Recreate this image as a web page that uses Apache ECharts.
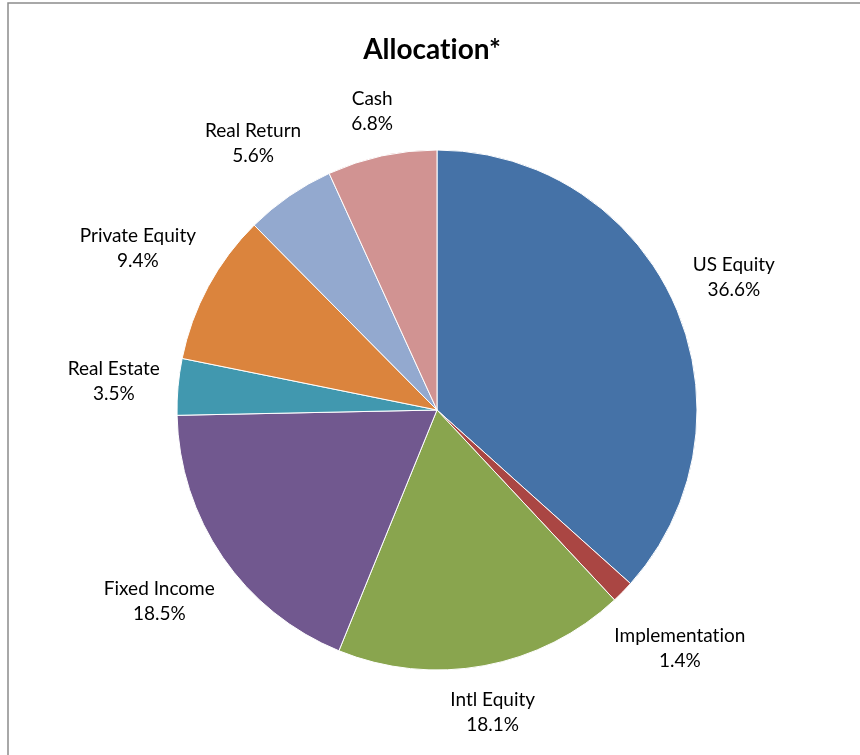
<!DOCTYPE html>
<html>
<head>
<meta charset="utf-8">
<title>Allocation</title>
<script src="https://cdn.jsdelivr.net/npm/echarts@6/dist/echarts.min.js"></script>
<style>
  html, body { margin: 0; padding: 0; background: #fff; }
  #chart { width: 860px; height: 755px; }
</style>
</head>
<body>
<div id="chart"></div>
<script>
// slices, clockwise from 12 o'clock
const categories = ['US Equity', 'Implementation', 'Intl Equity', 'Fixed Income', 'Real Estate', 'Private Equity', 'Real Return', 'Cash']
const shares = [36.6, 1.4, 18.1, 18.5, 3.5, 9.4, 5.6, 6.8]
const sliceColors = ['#4572A7', '#AA4643', '#89A54E', '#71588F', '#4198AF', '#DB843D', '#93A9CF', '#D19392']

const CX = 437
const CY = 410
const R = 260
const GAP = 17

const total = shares.reduce((a, b) => a + b, 0)
const midAngles = []
let acc = 0
shares.forEach(v => {
  midAngles.push(90 - (acc + v / 2) / total * 360)
  acc += v
})

// Lato fuses "ti" into a ligature; a zero-width non-joiner keeps the letters apart
const noLig = (s) => s.replace(/ti/g, 't\u200Ci')

// push each label out along its slice's mid angle until the box clears the pie
const placeLabel = (p) => {
  const a = midAngles[p.dataIndex] * Math.PI / 180
  const ux = Math.cos(a)
  const uy = -Math.sin(a)
  const hw = p.labelRect.width / 2
  const hh = p.labelRect.height / 2
  let d = R
  for (; d < R + 300; d += 0.5) {
    const bx = CX + ux * d
    const by = CY + uy * d
    const qx = Math.min(Math.max(CX, bx - hw), bx + hw)
    const qy = Math.min(Math.max(CY, by - hh), by + hh)
    if (Math.hypot(qx - CX, qy - CY) >= R + GAP) break
  }
  return { x: CX + ux * d, y: CY + uy * d, align: 'center', verticalAlign: 'middle' }
}

const chart = echarts.init(document.getElementById('chart'))

const option = {
  animation: false,
  backgroundColor: '#fff',
  title: {
    text: noLig('Allocation*'),
    left: 427,
    top: 31,
    textAlign: 'center',
    textStyle: { fontFamily: 'Lato', fontWeight: 'bold', fontSize: 28, color: '#000' }
  },
  graphic: [
    {
      type: 'rect',
      shape: { x: 8, y: 3, width: 900, height: 800 },
      style: { fill: 'none', stroke: '#8c8c8c', lineWidth: 1.5 },
      silent: true
    }
  ],
  series: [
    {
      type: 'pie',
      center: [CX, CY],
      radius: R,
      startAngle: 90,
      clockwise: true,
      avoidLabelOverlap: false,
      itemStyle: { borderColor: '#fff', borderWidth: 1 },
      label: {
        show: true,
        position: 'outside',
        formatter: (p) => noLig(p.name) + '\n' + p.value.toFixed(1) + '%',
        fontFamily: 'Lato',
        fontSize: 19,
        lineHeight: 25,
        color: '#000'
      },
      labelLine: { show: false },
      labelLayout: placeLabel,
      emphasis: { disabled: true },
      data: categories.map((name, i) => ({
        name: name,
        value: shares[i],
        itemStyle: { color: sliceColors[i] }
      }))
    }
  ]
}

chart.setOption(option)
</script>
</body>
</html>
